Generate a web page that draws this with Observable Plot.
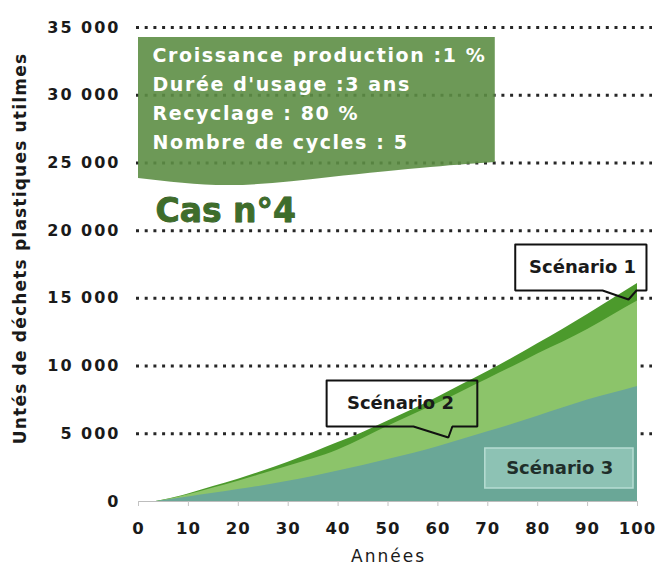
<!DOCTYPE html>
<html><head><meta charset="utf-8">
<script src="https://cdn.jsdelivr.net/npm/d3@7"></script>
<script src="https://cdn.jsdelivr.net/npm/@observablehq/plot@0.6"></script>
<style>
body{margin:0;background:#fff;}
#chart svg{display:block;}
[aria-label="y-axis tick label"]{letter-spacing:2px;}
[aria-label="x-axis tick label"]{letter-spacing:1px;}
</style></head><body><div id="chart"></div>
<script>
// ---- data ----
const years     = [0, 3, 5, 10, 15, 20, 25, 30, 35, 40, 45, 50, 55, 60, 65, 70, 75, 80, 85, 90, 95, 100];
const scenario1 = [0, 0, 120, 560, 1100, 1650, 2250, 2900, 3600, 4350, 5100, 5950, 6800, 7700, 8650, 9600, 10600, 11650, 12700, 13800, 14950, 16100];
const scenario2 = [0, 0, 100, 500, 1000, 1500, 2050, 2600, 3150, 3800, 4650, 5550, 6400, 7250, 8150, 9050, 9950, 10900, 11750, 12700, 13750, 14800];
const scenario3 = [0, 0, 80, 330, 600, 880, 1170, 1500, 1850, 2250, 2650, 3100, 3550, 4050, 4600, 5150, 5700, 6300, 6900, 7500, 8000, 8500];
const xTicks = [0, 10, 20, 30, 40, 50, 60, 70, 80, 90, 100];
const yTicks = [0, 5000, 10000, 15000, 20000, 25000, 30000, 35000];
const gridTicks = [5000, 10000, 15000, 20000, 25000, 30000, 35000];
const scenarioNames = ["Scénario 1", "Scénario 2", "Scénario 3"];
const infoLines = ["Croissance production :1 %", "Durée d'usage :3 ans", "Recyclage : 80 %", "Nombre de cycles : 5"];
const caseTitle = "Cas n°4";
const xLabel = "Années";
const yLabel = "Untés de déchets plastiques utilmes";

const rows = years.map((t, i) => ({t, s1: scenario1[i], s2: scenario2[i], s3: scenario3[i]}));

// annotation shapes (in data coordinates)
const infoBox = [
  {x: 0, y1: 23850, y2: 34260},
  {x: 18.4, y1: 23330, y2: 34260},
  {x: 38.5, y1: 23920, y2: 34260},
  {x: 58.6, y1: 24660, y2: 34260},
  {x: 71.5, y1: 25030, y2: 34260}
];
const callout1 = [
  {x: 75.5, y: 18977}, {x: 101.8, y: 18977}, {x: 101.8, y: 15580}, {x: 99.8, y: 15580},
  {x: 98.2, y: 14916}, {x: 93.0, y: 15580}, {x: 75.5, y: 15580}, {x: 75.5, y: 18977}
];
const callout2 = [
  {x: 37.7, y: 8935}, {x: 67.9, y: 8935}, {x: 67.9, y: 5538}, {x: 62.9, y: 5538},
  {x: 62.1, y: 4726}, {x: 55.1, y: 5538}, {x: 37.7, y: 5538}, {x: 37.7, y: 8935}
];

const FONT = "'DejaVu Sans', sans-serif";

const chart = Plot.plot({
  width: 658,
  height: 567,
  marginTop: 27,
  marginBottom: 66,
  marginLeft: 136,
  marginRight: 6,
  style: {fontFamily: FONT, background: "#fff", color: "#1a1a1a"},
  x: {domain: [0, 100], range: [138, 637]},
  y: {domain: [0, 35000], range: [501, 27]},
  marks: [
    Plot.ruleY(gridTicks, {stroke: "#262626", strokeWidth: 3, strokeDasharray: "3 5.7"}),
    Plot.areaY(infoBox, {x: "x", y1: "y1", y2: "y2", fill: "#5d8e45", fillOpacity: 0.9, curve: "natural"}),
    Plot.text([infoLines.join("\n")], {x: 2.8, y: 29930, text: d => d, textAnchor: "start", lineAnchor: "middle",
      lineHeight: 1.53, fontSize: 19, fontWeight: "bold", fill: "#ffffff"}),
    Plot.text([caseTitle], {x: 3.4, y: 21450, text: d => d, textAnchor: "start", fontSize: 33, fontWeight: "bold",
      fill: "#3e6d2b", stroke: "#2d5220", strokeWidth: 0.8}),
    Plot.ruleY([0], {x1: 0, x2: 100, stroke: "#bdbdbd", strokeWidth: 1}),
    Plot.areaY(rows, {x: "t", y: "s1", fill: "#4c9a2c", curve: "monotone-x"}),
    Plot.areaY(rows, {x: "t", y: "s2", fill: "#8cc46a", curve: "monotone-x"}),
    Plot.areaY(rows, {x: "t", y: "s3", fill: "#6aa797", curve: "monotone-x"}),
    Plot.line(callout1, {x: "x", y: "y", stroke: "#111", strokeWidth: 2, strokeLinejoin: "miter"}),
    Plot.text([scenarioNames[0]], {x: 89.0, y: 17278, text: d => d, fontSize: 18, fontWeight: "bold", fill: "#1a1a1a"}),
    Plot.line(callout2, {x: "x", y: "y", stroke: "#111", strokeWidth: 2, strokeLinejoin: "miter"}),
    Plot.text([scenarioNames[1]], {x: 52.5, y: 7236, text: d => d, fontSize: 18, fontWeight: "bold", fill: "#1a1a1a"}),
    Plot.rect([scenarioNames[2]], {x1: 69.5, x2: 99.2, y1: 960, y2: 3913, fill: "#96c9bb", fillOpacity: 0.8,
      stroke: "#b7ddd3", strokeWidth: 1.5}),
    Plot.text([scenarioNames[2]], {x: 84.4, y: 2437, text: d => d, fontSize: 18, fontWeight: "bold", fill: "#1f2e2a"}),
    Plot.axisY({ticks: yTicks, tickSize: 0, tickPadding: 16, label: null, fontSize: 16, fontWeight: "bold",
      tickFormat: d => d3.format(",")(d).replace(/,/g, " ")}),
    Plot.axisX({ticks: xTicks, tickSize: 5, tickPadding: 16, label: null, fontSize: 16.5, fontWeight: "bold",
      stroke: "#c4c4c4", fill: "#1a1a1a", tickFormat: d => String(d)}),
    Plot.text([yLabel], {frameAnchor: "left", rotate: -90, dx: -116, dy: -16, textAnchor: "middle", text: d => d,
      fontSize: 17, fontWeight: "bold", fill: "#1a1a1a"}),
    Plot.text([xLabel], {frameAnchor: "bottom", dy: 60, dx: -6, textAnchor: "middle", text: d => d, fontSize: 17,
      fill: "#1a1a1a"})
  ]
});
// letter spacing to approach the wide geometric face of the original
chart.querySelectorAll("text").forEach(t => {
  const s = t.textContent;
  if (s.startsWith(infoLines[0])) t.style.letterSpacing = "1.6px";
  else if (s === yLabel) t.style.letterSpacing = "1.2px";
  else if (s === xLabel) t.style.letterSpacing = "2px";
});
document.getElementById("chart").appendChild(chart);
</script>
</body></html>
